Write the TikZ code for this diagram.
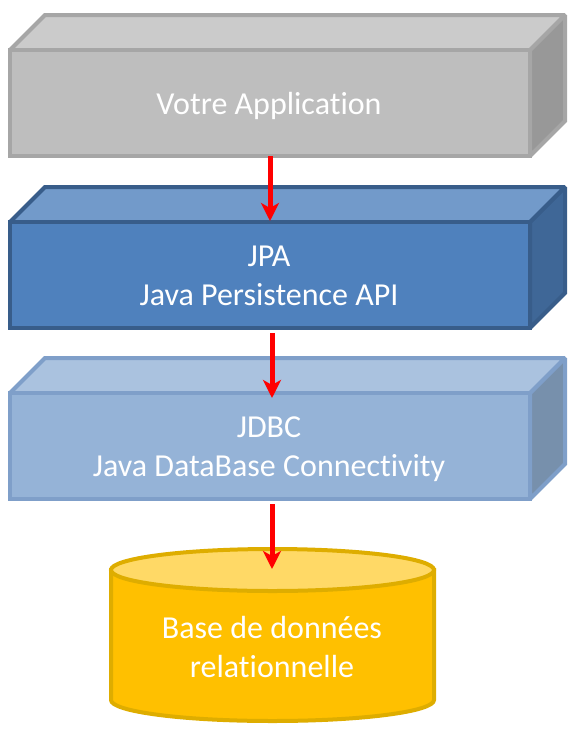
\documentclass[tikz,border=0pt]{standalone}
\usepackage{fontspec}
\setmainfont[Ligatures=NoCommon]{Carlito}
\usetikzlibrary{arrows.meta}
\definecolor{grisface}{HTML}{BEBEBE}
\definecolor{grishaut}{HTML}{CBCBCB}
\definecolor{griscote}{HTML}{989898}
\definecolor{grisbord}{HTML}{A6A6A6}
\definecolor{bleuface}{HTML}{4F81BD}
\definecolor{bleuhaut}{HTML}{729ACA}
\definecolor{bleucote}{HTML}{3F6797}
\definecolor{bleubord}{HTML}{385D8A}
\definecolor{clairface}{HTML}{95B3D7}
\definecolor{clairhaut}{HTML}{AAC2DF}
\definecolor{claircote}{HTML}{7790AC}
\definecolor{clairbord}{HTML}{7F9FC9}
\definecolor{orface}{HTML}{FFC000}
\definecolor{orhaut}{HTML}{FFD966}
\definecolor{orbord}{HTML}{DEAD00}
\tikzset{
    couche/.style={line width=4pt, line join=miter, miter limit=1.5},
    texte/.style={text=white, font=\fontsize{32}{39}\selectfont, align=center},
    fleche/.style={-{Stealth[length=18pt, width=18pt, inset=5pt]}, red, line width=5pt}
}
\begin{document}
\begin{tikzpicture}[x=1pt, y=-1pt]
        \useasboundingbox (0, 0) rectangle (576, 732);

        % Votre Application
        \coordinate (A) at (10, 156);
        \coordinate (B) at (530, 156);
        \coordinate (C) at (530, 50);
        \coordinate (D) at (10, 50);
        \coordinate (E) at (45, 15);
        \coordinate (F) at (565, 15);
        \coordinate (G) at (565, 121);
        \filldraw[couche, draw=grisbord, fill=griscote] (B) -- (G) -- (F) -- (C) -- cycle;
        \filldraw[couche, draw=grisbord, fill=grishaut] (D) -- (E) -- (F) -- (C) -- cycle;
        \filldraw[couche, draw=grisbord, fill=grisface] (A) -- (B) -- (C) -- (D) -- cycle;
        \node[texte] (app) at (269, 106) {Votre Application};

        % JPA
        \coordinate (A1) at (10, 328);
        \coordinate (B1) at (530, 328);
        \coordinate (C1) at (530, 222);
        \coordinate (D1) at (10, 222);
        \coordinate (E1) at (45, 187);
        \coordinate (F1) at (565, 187);
        \coordinate (G1) at (565, 293);
        \filldraw[couche, draw=bleubord, fill=bleucote] (B1) -- (G1) -- (F1) -- (C1) -- cycle;
        \filldraw[couche, draw=bleubord, fill=bleuhaut] (D1) -- (E1) -- (F1) -- (C1) -- cycle;
        \filldraw[couche, draw=bleubord, fill=bleuface] (A1) -- (B1) -- (C1) -- (D1) -- cycle;
        \node[texte] (jpa) at (269, 276) {JPA\\Java Persistence API};

        % JDBC
        \coordinate (A2) at (10, 499);
        \coordinate (B2) at (530, 499);
        \coordinate (C2) at (530, 393);
        \coordinate (D2) at (10, 393);
        \coordinate (E2) at (45, 358);
        \coordinate (F2) at (565, 358);
        \coordinate (G2) at (565, 464);
        \filldraw[couche, draw=clairbord, fill=claircote] (B2) -- (G2) -- (F2) -- (C2) -- cycle;
        \filldraw[couche, draw=clairbord, fill=clairhaut] (D2) -- (E2) -- (F2) -- (C2) -- cycle;
        \filldraw[couche, draw=clairbord, fill=clairface] (A2) -- (B2) -- (C2) -- (D2) -- cycle;
        \node[texte] (jdbc) at (269, 449) {JDBC\\Java DataBase Connectivity};

        % Base de donnees
        \coordinate (H) at (111, 570);
        \coordinate (I) at (111, 700);
        \coordinate (O) at (272.5, 570);
        \filldraw[couche, draw=orbord, fill=orface] (H) -- (I) arc[x radius=161.5pt, y radius=21pt, start angle=180, end angle=360] -- (434, 570) -- cycle;
        \filldraw[couche, draw=orbord, fill=orhaut] (O) ellipse [x radius=161.5pt, y radius=21pt];
        \node[texte] (base) at (272, 647) {Base de données\\relationnelle};

        % Les fleches
        \coordinate (a1) at (270, 156);
        \coordinate (a2) at (270, 221);
        \coordinate (b1) at (272, 333);
        \coordinate (b2) at (272, 398);
        \coordinate (c1) at (272, 504);
        \coordinate (c2) at (272, 569);
        \draw[fleche] (a1) -- (a2);
        \draw[fleche] (b1) -- (b2);
        \draw[fleche] (c1) -- (c2);
    \end{tikzpicture}
\end{document}
